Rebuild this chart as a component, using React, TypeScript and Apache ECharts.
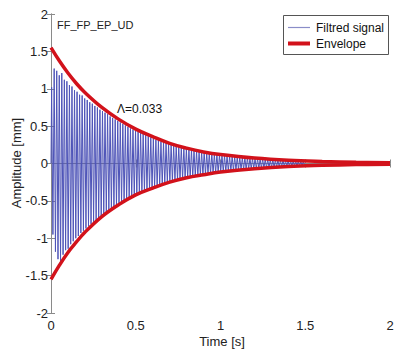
import React, { useEffect, useRef } from "react";
import * as echarts from "echarts";

// Axis settings
const X_MIN = 0;
const X_MAX = 2;
const X_STEP = 0.5;
const Y_MIN = -2;
const Y_MAX = 2;
const Y_STEP = 0.5;

// Envelope
const ENV_T = [0, 0.05, 0.1, 0.15, 0.2, 0.3, 0.4, 0.5, 0.6, 0.7, 0.8, 0.9, 1.0, 1.2, 1.4, 1.6, 1.8, 2.0];
const ENV_UPPER = [1.55, 1.37, 1.21, 1.07, 0.95, 0.75, 0.59, 0.46, 0.36, 0.27, 0.205, 0.155, 0.12, 0.072, 0.042, 0.026, 0.016, 0.01];
const ENV_LOWER = [-1.55, -1.36, -1.19, -1.05, -0.92, -0.71, -0.55, -0.42, -0.33, -0.25, -0.19, -0.15, -0.115, -0.07, -0.04, -0.025, -0.015, -0.009];

// Filtered signal: estimated peak / trough heights of successive cycles
const SIGNAL_PERIOD = 0.015;
const SIGNAL_PEAKS = [
  1.02, 1.27, 1.24, 1.18, 1.21, 1.12, 1.10, 1.05, 1.03, 0.98,
  0.96, 0.92, 0.91, 0.87, 0.85, 0.82, 0.80, 0.77, 0.75, 0.72,
  0.70, 0.68, 0.66, 0.63, 0.61, 0.59, 0.57, 0.55, 0.53, 0.51,
  0.49, 0.47, 0.455, 0.44, 0.425, 0.41, 0.395, 0.38, 0.365, 0.35,
  0.335, 0.32, 0.31, 0.295, 0.285, 0.275, 0.265, 0.255, 0.245, 0.235,
  0.225, 0.215, 0.205, 0.198, 0.19, 0.183, 0.175, 0.168, 0.162, 0.156,
  0.15, 0.144, 0.139, 0.133, 0.128, 0.123, 0.118, 0.113, 0.109, 0.105,
  0.10, 0.096, 0.093, 0.089, 0.086, 0.082, 0.079, 0.076, 0.073, 0.07,
  0.067, 0.065, 0.062, 0.06, 0.057, 0.055, 0.053, 0.051, 0.049, 0.047,
  0.045, 0.044, 0.042, 0.04, 0.039, 0.037, 0.036, 0.035, 0.033, 0.032,
];
const SIGNAL_TROUGHS = [
  -0.95, -1.18, -1.28, -1.32, -1.22, -1.16, -1.14, -1.08, -1.04, -1.0,
  -0.97, -0.93, -0.90, -0.87, -0.84, -0.81, -0.78, -0.76, -0.73, -0.71,
  -0.685, -0.66, -0.64, -0.615, -0.595, -0.575, -0.555, -0.535, -0.515, -0.495,
  -0.478, -0.46, -0.442, -0.425, -0.41, -0.394, -0.379, -0.365, -0.351, -0.337,
  -0.324, -0.312, -0.3, -0.288, -0.277, -0.266, -0.256, -0.246, -0.237, -0.228,
  -0.219, -0.21, -0.202, -0.194, -0.187, -0.18, -0.173, -0.166, -0.16, -0.154,
  -0.148, -0.142, -0.137, -0.132, -0.127, -0.122, -0.117, -0.113, -0.108, -0.104,
  -0.1, -0.096, -0.093, -0.089, -0.086, -0.082, -0.079, -0.076, -0.073, -0.07,
  -0.068, -0.065, -0.063, -0.06, -0.058, -0.056, -0.054, -0.052, -0.05, -0.048,
  -0.046, -0.044, -0.043, -0.041, -0.04, -0.038, -0.037, -0.035, -0.034, -0.033,
];

const TITLE_TEXT = "FF_FP_EP_UD";
const ANNOTATION = "Λ=0.033";
const LEGEND_SIGNAL = "Filtred signal";
const LEGEND_ENVELOPE = "Envelope";
const X_NAME = "Time [s]";
const Y_NAME = "Amplitude [mm]";

const FONT = "'Liberation Sans', Arial, sans-serif";
const BLUE = "#4e54b8";
const RED = "#d2121b";
const AXIS_GRAY = "#8a8a8a";

export default function App() {
  const ref = useRef<HTMLDivElement>(null);

  useEffect(() => {
    if (!ref.current) return;
    const chart = echarts.init(ref.current, undefined, { renderer: "svg" });

    const signal: number[][] = [[0, 0]];
    const n = Math.min(SIGNAL_PEAKS.length, SIGNAL_TROUGHS.length);
    for (let i = 0; i < n; i++) {
      signal.push([i * SIGNAL_PERIOD + SIGNAL_PERIOD * 0.25, SIGNAL_PEAKS[i]]);
      signal.push([i * SIGNAL_PERIOD + SIGNAL_PERIOD * 0.75, SIGNAL_TROUGHS[i]]);
    }
    const upper = ENV_T.map((t, i) => [t, ENV_UPPER[i]]);
    const lower = ENV_T.map((t, i) => [t, ENV_LOWER[i]]);

    const xCommon = {
      type: "value" as const,
      min: X_MIN,
      max: X_MAX,
      interval: X_STEP,
      splitLine: { show: false },
      axisLine: { show: true, lineStyle: { color: AXIS_GRAY, width: 1 } },
      axisTick: { show: true, inside: true, length: 4, lineStyle: { color: AXIS_GRAY } },
    };
    const yCommon = {
      type: "value" as const,
      min: Y_MIN,
      max: Y_MAX,
      interval: Y_STEP,
      splitLine: { show: false },
      axisLine: { show: true, lineStyle: { color: AXIS_GRAY, width: 1 } },
      axisTick: { show: true, inside: true, length: 4, lineStyle: { color: AXIS_GRAY } },
    };

    chart.setOption({
      animation: false,
      backgroundColor: "#ffffff",
      grid: {
        left: 51,
        right: 6,
        top: 14,
        bottom: 36,
        containLabel: false,
        outerBoundsMode: "none",
      },
      xAxis: [
        {
          ...xCommon,
          position: "bottom",
          axisLabel: {
            color: "#222",
            fontSize: 13,
            fontFamily: FONT,
            margin: 6,
            formatter: (v: number) => String(v),
          },
        },
        { ...xCommon, position: "top", axisLabel: { show: false } },
      ],
      yAxis: [
        {
          ...yCommon,
          position: "left",
          axisLabel: {
            color: "#222",
            fontSize: 13,
            fontFamily: FONT,
            margin: 3,
            formatter: (v: number) => String(v),
          },
        },
        { ...yCommon, position: "right", axisLabel: { show: false } },
      ],
      series: [
        {
          name: LEGEND_SIGNAL,
          type: "line",
          data: signal,
          showSymbol: false,
          symbol: "none",
          lineStyle: { color: BLUE, width: 1 },
          z: 2,
        },
        {
          name: LEGEND_ENVELOPE,
          type: "line",
          data: upper,
          smooth: 0.4,
          showSymbol: false,
          symbol: "none",
          lineStyle: { color: RED, width: 3.5 },
          z: 3,
        },
        {
          name: LEGEND_ENVELOPE,
          type: "line",
          data: lower,
          smooth: 0.4,
          showSymbol: false,
          symbol: "none",
          lineStyle: { color: RED, width: 3.5 },
          z: 3,
        },
      ],
      graphic: [
        {
          type: "text",
          x: 222,
          y: 341,
          style: {
            text: X_NAME,
            fill: "#222",
            font: `13px ${FONT}`,
            align: "center",
            verticalAlign: "middle",
          },
          z: 10,
        },
        {
          type: "text",
          x: 16,
          y: 163,
          rotation: Math.PI / 2,
          style: {
            text: Y_NAME,
            fill: "#222",
            font: `13px ${FONT}`,
            align: "center",
            verticalAlign: "middle",
          },
          z: 10,
        },
        {
          type: "text",
          left: 57,
          top: 19,
          style: { text: TITLE_TEXT, fill: "#222", font: `11px ${FONT}` },
          z: 10,
        },
        {
          type: "text",
          left: 117,
          top: 103,
          style: { text: ANNOTATION, fill: "#111", font: `12px ${FONT}` },
          z: 10,
        },
        {
          type: "rect",
          shape: { x: 283.5, y: 15.5, width: 105, height: 39 },
          style: { fill: "#ffffff", stroke: "#555", lineWidth: 1 },
          z: 10,
        },
        {
          type: "line",
          shape: { x1: 288, y1: 27.5, x2: 310, y2: 27.5 },
          style: { stroke: "#8a8dc8", lineWidth: 1.2 },
          z: 11,
        },
        {
          type: "text",
          x: 316,
          y: 28,
          style: { text: LEGEND_SIGNAL, fill: "#111", font: `12px ${FONT}`, verticalAlign: "middle" },
          z: 11,
        },
        {
          type: "line",
          shape: { x1: 288, y1: 43.5, x2: 310, y2: 43.5 },
          style: { stroke: RED, lineWidth: 4 },
          z: 11,
        },
        {
          type: "text",
          x: 316,
          y: 44,
          style: { text: LEGEND_ENVELOPE, fill: "#111", font: `12px ${FONT}`, verticalAlign: "middle" },
          z: 11,
        },
      ],
    });

    return () => chart.dispose();
  }, []);

  return <div ref={ref} style={{ width: 396, height: 349, position: "absolute", left: 0, top: 0 }} />;
}
